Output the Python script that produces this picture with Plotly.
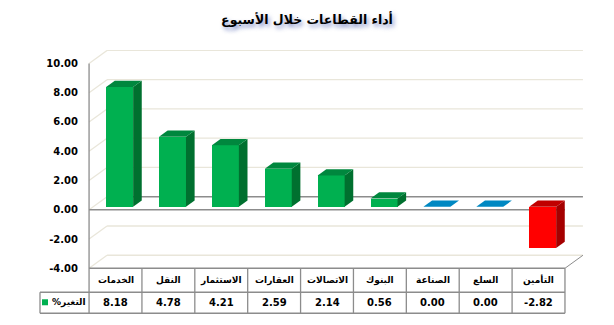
import plotly.graph_objects as go

# ---------------- data ----------------
chart_title = "أداء القطاعات خلال الأسبوع"
categories = ["الخدمات", "النقل", "الاستثمار", "العقارات", "الاتصالات",
              "البنوك", "الصناعة", "السلع", "التأمين"]
changes = [8.18, 4.78, 4.21, 2.59, 2.14, 0.56, 0.00, 0.00, -2.82]
series_name = "%التغير"
y_ticks = [-4, -2, 0, 2, 4, 6, 8, 10]

# ---------------- geometry / style ----------------
W, H = 614, 325
ML, MR, MT, MB = 88, 30, 50, 56
X_RANGE = [-0.52, 8.86]
Y_RANGE = [-4.05, 10.92]
DX, DY = 0.34, 0.89        # depth of the 3-D box (axis units)
F0, BD = 0.23, 0.48        # bar front depth fraction / bar depth fraction
BAR_W = 0.51
PLOT_H = H - MT - MB
PLOT_W = W - ML - MR

GREEN = ("#00B050", "#00873E", "#00702F")   # front, top, side
RED = ("#FF0000", "#C00000", "#A50000")
BLUE = "#0088C2"
GRID = "#E9E6DA"
DARK = "#8C8C8C"
FONT = "DejaVu Sans"


def xpaper(xv):
    return (xv - X_RANGE[0]) / (X_RANGE[1] - X_RANGE[0])


def ypaper(yv):
    return (yv - Y_RANGE[0]) / (Y_RANGE[1] - Y_RANGE[0])


def px_below(yv, px):
    return ypaper(yv) - px / PLOT_H


n = len(categories)
xs = list(range(n))

fig = go.Figure()

# front faces of the bars
front_colors = [GREEN[0] if v > 0 else (RED[0] if v < 0 else BLUE) for v in changes]
fig.add_trace(go.Bar(
    x=[i + F0 * DX for i in xs], y=changes, base=F0 * DY, width=BAR_W,
    marker=dict(color=front_colors, line=dict(width=0)),
    hoverinfo="skip", showlegend=False))

# side and top faces
for i, v in zip(xs, changes):
    x0 = i - BAR_W / 2 + F0 * DX
    x1 = x0 + BAR_W
    yb = F0 * DY
    yt = yb + v
    ytop = max(yb, yt)
    if v > 0:
        pal = GREEN
    elif v < 0:
        pal = RED
    else:
        pal = (BLUE, BLUE, BLUE)
    if v != 0:
        fig.add_trace(go.Scatter(
            x=[x1, x1 + BD * DX, x1 + BD * DX, x1, x1],
            y=[yb, yb + BD * DY, yt + BD * DY, yt, yb],
            mode="lines", fill="toself", fillcolor=pal[2],
            line=dict(width=0, color=pal[2]), hoverinfo="skip", showlegend=False))
    fig.add_trace(go.Scatter(
        x=[x0, x1, x1 + BD * DX, x0 + BD * DX, x0],
        y=[ytop, ytop, ytop + BD * DY, ytop + BD * DY, ytop],
        mode="lines", fill="toself", fillcolor=pal[1],
        line=dict(width=0, color=pal[1]), hoverinfo="skip", showlegend=False))

shapes = []
# back wall gridlines + side wall slants
for v in y_ticks:
    col = DARK if v == 0 else GRID
    shapes.append(dict(type="line", xref="x", yref="y", layer="below",
                       x0=-0.5 + DX, x1=n - 0.5 + DX, y0=v + DY, y1=v + DY,
                       line=dict(color=col, width=1.3)))
    shapes.append(dict(type="line", xref="x", yref="y", layer="below",
                       x0=-0.5, x1=-0.5 + DX, y0=v, y1=v + DY,
                       line=dict(color=GRID, width=1.3)))
# front zero line (category axis)
shapes.append(dict(type="line", xref="x", yref="y", layer="below",
                   x0=-0.5, x1=n - 0.5, y0=0, y1=0, line=dict(color=DARK, width=1.3)))
# floor right edge
shapes.append(dict(type="line", xref="x", yref="y", layer="below",
                   x0=n - 0.5, x1=n - 0.5 + DX, y0=y_ticks[0], y1=y_ticks[0] + DY,
                   line=dict(color=DARK, width=1)))

# value axis line + data table
row1 = px_below(y_ticks[0], 24)
row2 = px_below(y_ticks[0], 45)
ytop_axis = ypaper(y_ticks[-1])
legend_left = (40 - ML) / PLOT_W
shapes.append(dict(type="line", xref="paper", yref="paper",
                   x0=xpaper(-0.5), x1=xpaper(-0.5), y0=row2, y1=ytop_axis,
                   line=dict(color=DARK, width=1.3)))
for k in range(1, n + 1):
    xv = xpaper(k - 0.5)
    shapes.append(dict(type="line", xref="paper", yref="paper",
                       x0=xv, x1=xv, y0=row2, y1=ypaper(y_ticks[0]),
                       line=dict(color=DARK, width=1.3)))
shapes.append(dict(type="line", xref="paper", yref="paper",
                   x0=xpaper(-0.5), x1=xpaper(n - 0.5), y0=ypaper(y_ticks[0]), y1=ypaper(y_ticks[0]),
                   line=dict(color=DARK, width=1.3)))
for yy in (row1, row2):
    shapes.append(dict(type="line", xref="paper", yref="paper",
                       x0=legend_left, x1=xpaper(n - 0.5), y0=yy, y1=yy,
                       line=dict(color=DARK, width=1.3)))
shapes.append(dict(type="line", xref="paper", yref="paper",
                   x0=legend_left, x1=legend_left, y0=row1, y1=row2,
                   line=dict(color=DARK, width=1.3)))
# legend key
shapes.append(dict(type="rect", xref="paper", yref="paper",
                   x0=(42 - ML) / PLOT_W, x1=(48 - ML) / PLOT_W,
                   y0=px_below(y_ticks[0], 31), y1=px_below(y_ticks[0], 37),
                   fillcolor=GREEN[0], line=dict(width=0)))

annotations = []
hdr_y = (ypaper(y_ticks[0]) + row1) / 2
val_y = (row1 + row2) / 2
for i, (c, v) in enumerate(zip(categories, changes)):
    annotations.append(dict(x=i, y=hdr_y, xref="x", yref="paper", text=c,
                            showarrow=False, xanchor="center", yanchor="middle",
                            font=dict(family=FONT, size=9, color="black", weight="bold")))
    annotations.append(dict(x=i, y=val_y, xref="x", yref="paper", text=f"{v:.2f}",
                            showarrow=False, xanchor="center", yanchor="middle",
                            font=dict(family=FONT, size=10, color="black", weight="bold")))
annotations.append(dict(x=(50 - ML) / PLOT_W, y=val_y, xref="paper", yref="paper",
                        text=series_name, showarrow=False, xanchor="left", yanchor="middle",
                        font=dict(family=FONT, size=9, color="black", weight="bold")))

fig.update_layout(
    width=W, height=H,
    margin=dict(l=ML, r=MR, t=MT, b=MB, pad=0),
    paper_bgcolor="white", plot_bgcolor="white",
    showlegend=False, bargap=0,
    title=dict(text=chart_title, x=0.5, xref="container", xanchor="center",
               y=1 - 20 / H, yref="container", yanchor="middle",
               font=dict(family=FONT, size=12.5, color="black", weight="bold",
                         shadow="2px 3px 4px rgba(60,80,170,0.6)")),
    xaxis=dict(range=X_RANGE, visible=False, fixedrange=True),
    yaxis=dict(range=Y_RANGE, tickvals=y_ticks, ticktext=[f"{v:.2f}" for v in y_ticks],
               showgrid=False, zeroline=False, showline=False, ticks="",
               ticklabelstandoff=9,
               tickfont=dict(family=FONT, size=10, color="black", weight="bold"),
               fixedrange=True),
    shapes=shapes, annotations=annotations,
)

fig.write_html("out.html")
